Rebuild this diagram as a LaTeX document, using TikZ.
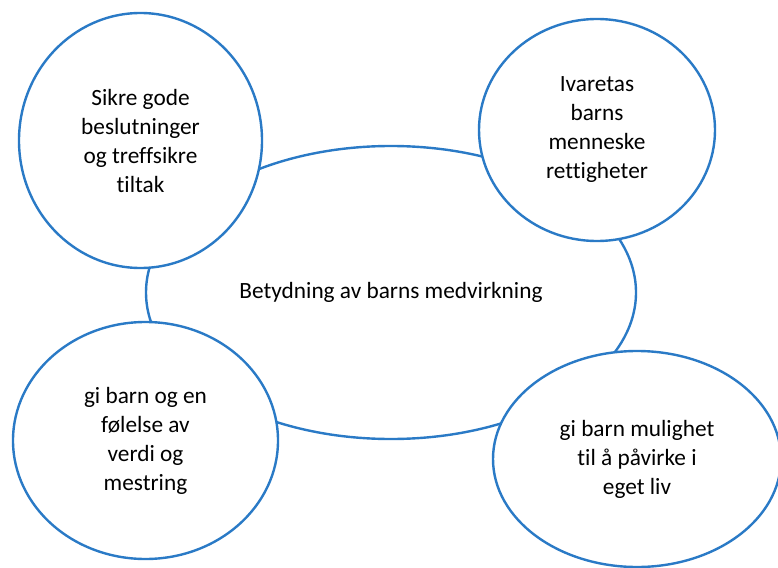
\documentclass[tikz,border=0pt]{standalone}
\usepackage{fontspec}
\setmainfont[Ligatures={NoCommon}]{Carlito}
\usetikzlibrary{shapes.geometric}
\definecolor{ringblue}{RGB}{42,122,198}
\tikzset{
  bubble/.style={ellipse, draw=ringblue, line width=2.4pt, fill=white, inner sep=0pt,
    align=center, font=\fontsize{23.3}{29}\selectfont, text=black}
}
\begin{document}
\begin{tikzpicture}[x=1pt,y=-1pt]
\useasboundingbox (0,0) rectangle (778,567);
\node[bubble, minimum width=490pt, minimum height=293pt] (center) at (391,292.5) {Betydning av barns medvirkning};
\node[bubble, minimum width=243pt, minimum height=255pt] (tl) at (140.5,140.5) {Sikre gode\\beslutninger\\og treffsikre\\tiltak};
\node[bubble, minimum width=236pt, minimum height=222pt] (tr) at (597,130) {Ivaretas\\barns\\menneske\\rettigheter};
\node[bubble, minimum width=265pt, minimum height=237pt] (bl) at (145.5,440.5) {gi barn og en\\følelse av\\verdi og\\mestring};
\node[bubble, minimum width=288pt, minimum height=216pt] (br) at (637,459) {gi barn mulighet\\til å påvirke i\\eget liv};
\end{tikzpicture}
\end{document}
